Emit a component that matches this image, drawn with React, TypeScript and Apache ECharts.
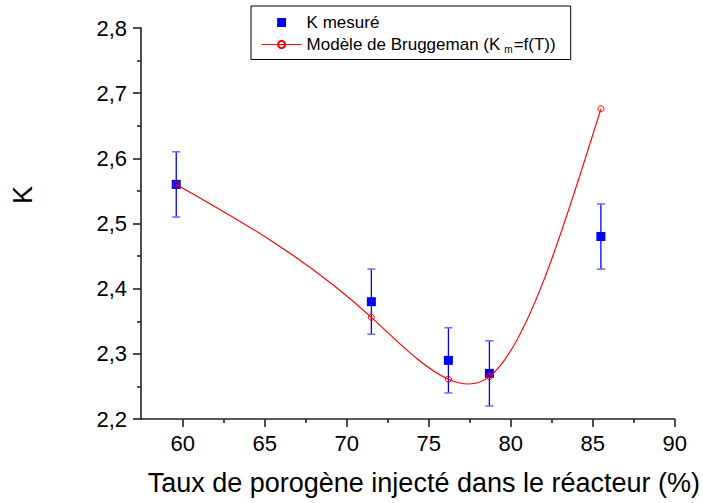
import React, { useEffect, useRef } from "react";
import * as echarts from "echarts";

const xTicks = [60, 65, 70, 75, 80, 85, 90];
const xMinorTicks = [62.5, 67.5, 72.5, 77.5, 82.5, 87.5];
const temps = [59.6, 71.5, 76.2, 78.7, 85.5];
const kMeasured = [2.56, 2.38, 2.29, 2.27, 2.48];
const kError = [0.05, 0.05, 0.05, 0.05, 0.05];
const kModel = [2.56, 2.356, 2.261, 2.265, 2.676];

const measuredName = "K mesuré";
const modelName = "Modèle de Bruggeman (Km=f(T))";
const xTitle = "Taux de porogène injecté dans le réacteur (%)";
const yTitle = "K";

const FONT = "'Liberation Sans', Arial, sans-serif";
const AXIS = "#222";

// Natural cubic spline slopes through the model points (for drawing the connecting curve)
function splineSlopes(xs: number[], ys: number[]): number[] {
  const n = xs.length;
  const h: number[] = [];
  const d: number[] = [];
  for (let i = 0; i < n - 1; i++) {
    h.push(xs[i + 1] - xs[i]);
    d.push((ys[i + 1] - ys[i]) / h[i]);
  }
  const M = new Array(n).fill(0);
  const m = n - 2;
  if (m > 0) {
    const a: number[] = [], b: number[] = [], c: number[] = [], r: number[] = [];
    for (let i = 1; i <= m; i++) {
      a.push(h[i - 1]);
      b.push(2 * (h[i - 1] + h[i]));
      c.push(h[i]);
      r.push(6 * (d[i] - d[i - 1]));
    }
    for (let i = 1; i < m; i++) {
      const w = a[i] / b[i - 1];
      b[i] -= w * c[i - 1];
      r[i] -= w * r[i - 1];
    }
    const sol = new Array(m).fill(0);
    sol[m - 1] = r[m - 1] / b[m - 1];
    for (let i = m - 2; i >= 0; i--) sol[i] = (r[i] - c[i] * sol[i + 1]) / b[i];
    for (let i = 0; i < m; i++) M[i + 1] = sol[i];
  }
  const slopes: number[] = [];
  for (let i = 0; i < n - 1; i++) slopes.push(d[i] - (h[i] * (2 * M[i] + M[i + 1])) / 6);
  slopes.push(d[n - 2] + (h[n - 2] * (M[n - 2] + 2 * M[n - 1])) / 6);
  return slopes;
}

export default function App() {
  const ref = useRef<HTMLDivElement>(null);
  useEffect(() => {
    if (!ref.current) return;
    const chart = echarts.init(ref.current, null, { renderer: "svg" });
    const slopes = splineSlopes(temps, kModel);
    const option: any = {
      animation: false,
      backgroundColor: "#fff",
      textStyle: { fontFamily: FONT, color: "#000" },
      grid: { left: 141, right: 28, top: 28, bottom: 84, containLabel: false },
      legend: {
        orient: "vertical",
        left: 251,
        top: 6,
        padding: [8, 15, 5, 10],
        borderColor: "#000",
        borderWidth: 1,
        itemWidth: 40,
        itemHeight: 9,
        itemGap: 5,
        textStyle: {
          fontSize: 17,
          fontFamily: FONT,
          color: "#000",
          rich: {
            a: { fontSize: 17, fontFamily: FONT, color: "#000" },
            s: { fontSize: 10, fontFamily: FONT, color: "#000", padding: [10, 1, 0, 4] },
          },
        },
        formatter: (name: string) =>
          name === modelName
            ? "{a|Modèle de Bruggeman (K}{s|m}{a|=f(T))}"
            : name,
        data: [
          { name: measuredName, icon: "path://M0,0H10V10H0Z", itemStyle: { color: "#0000ff", opacity: 1 } },
          { name: modelName, lineStyle: { color: "#ff0000", width: 1.2, opacity: 1 } },
        ],
      },
      xAxis: [
        {
          type: "value",
          min: 57.45,
          max: 90,
          position: "bottom",
          axisLine: { show: true, onZero: false, lineStyle: { color: AXIS, width: 1.6 } },
          axisTick: { show: true, inside: false, length: 8, customValues: xTicks, lineStyle: { color: AXIS, width: 1.6 } },
          axisLabel: { customValues: xTicks, fontSize: 22, color: "#000", margin: 13, fontFamily: FONT },
          splitLine: { show: false },
          name: xTitle,
          nameLocation: "middle",
          nameGap: 50,
          nameTextStyle: { fontSize: 27, color: "#000", fontFamily: FONT, padding: [0, 0, 0, 32] },
        },
        {
          type: "value",
          min: 57.45,
          max: 90,
          position: "bottom",
          axisLine: { show: false, onZero: false },
          axisTick: { show: true, inside: false, length: 4, customValues: xMinorTicks, lineStyle: { color: AXIS, width: 1.6 } },
          axisLabel: { show: false },
          splitLine: { show: false },
        },
      ],
      yAxis: {
        type: "value",
        min: 2.2,
        max: 2.8,
        interval: 0.1,
        axisLine: { show: true, onZero: false, lineStyle: { color: AXIS, width: 1.6 } },
        axisTick: { show: true, inside: false, length: 8, lineStyle: { color: AXIS, width: 1.6 } },
        minorTick: { show: true, splitNumber: 2, length: 4, lineStyle: { color: AXIS, width: 1.6 } },
        axisLabel: {
          fontSize: 22,
          color: "#000",
          margin: 14,
          fontFamily: FONT,
          formatter: (v: number) => v.toFixed(1).replace(".", ","),
        },
        splitLine: { show: false },
        minorSplitLine: { show: false },
        name: yTitle,
        nameLocation: "middle",
        nameGap: 105,
        nameTextStyle: { fontSize: 27, color: "#000", fontFamily: FONT, padding: [0, 0, 0, 57] },
      },
      series: [
        {
          type: "custom",
          name: "err",
          xAxisIndex: 0,
          yAxisIndex: 0,
          encode: { x: 0, y: [1, 2] },
          data: temps.map((t, i) => [t, kMeasured[i] - kError[i], kMeasured[i] + kError[i]]),
          z: 2,
          renderItem: (params: any, api: any) => {
            const x = api.value(0);
            const lo = api.coord([x, api.value(1)]);
            const hi = api.coord([x, api.value(2)]);
            const w = 4;
            return {
              type: "group",
              children: [
                { type: "line", shape: { x1: hi[0], y1: hi[1], x2: lo[0], y2: lo[1] }, style: { stroke: "#0000ff", lineWidth: 1.3 } },
                { type: "line", shape: { x1: hi[0] - w, y1: hi[1], x2: hi[0] + w, y2: hi[1] }, style: { stroke: "#7070ff", lineWidth: 1.6 } },
                { type: "line", shape: { x1: lo[0] - w, y1: lo[1], x2: lo[0] + w, y2: lo[1] }, style: { stroke: "#7070ff", lineWidth: 1.6 } },
              ],
            };
          },
        },
        {
          type: "scatter",
          name: measuredName,
          xAxisIndex: 0,
          yAxisIndex: 0,
          symbol: "rect",
          symbolSize: 9,
          itemStyle: { color: "#0000ff", opacity: 1 },
          data: temps.map((t, i) => [t, kMeasured[i]]),
          z: 3,
        },
        {
          type: "custom",
          name: "model-curve",
          xAxisIndex: 0,
          yAxisIndex: 0,
          encode: { x: 0, y: 1 },
          data: temps.map((t, i) => [t, kModel[i]]),
          z: 3.5,
          renderItem: (params: any, api: any) => {
            const i = params.dataIndex;
            if (i >= temps.length - 1) return null;
            const x0 = temps[i], y0 = kModel[i];
            const x1 = temps[i + 1], y1 = kModel[i + 1];
            const h = x1 - x0;
            const p0 = api.coord([x0, y0]);
            const c1 = api.coord([x0 + h / 3, y0 + (slopes[i] * h) / 3]);
            const c2 = api.coord([x1 - h / 3, y1 - (slopes[i + 1] * h) / 3]);
            const p1 = api.coord([x1, y1]);
            return {
              type: "bezierCurve",
              shape: { x1: p0[0], y1: p0[1], cpx1: c1[0], cpy1: c1[1], cpx2: c2[0], cpy2: c2[1], x2: p1[0], y2: p1[1] },
              style: { stroke: "#ff0000", fill: null, lineWidth: 1.2 },
            };
          },
        },
        {
          type: "line",
          name: modelName,
          xAxisIndex: 0,
          yAxisIndex: 0,
          symbol: "circle",
          symbolSize: 6,
          showSymbol: true,
          lineStyle: { color: "#ff0000", width: 1.2, opacity: 0 },
          itemStyle: { color: "rgba(255,255,255,0)", borderColor: "#ff0000", borderWidth: 1 },
          data: temps.map((t, i) => [t, kModel[i]]),
          z: 4,
        },
      ],
    };
    chart.setOption(option);
    return () => chart.dispose();
  }, []);
  return (
    <div
      ref={ref}
      style={{ position: "fixed", left: 0, top: 0, width: 703, height: 503, background: "#fff" }}
    />
  );
}
